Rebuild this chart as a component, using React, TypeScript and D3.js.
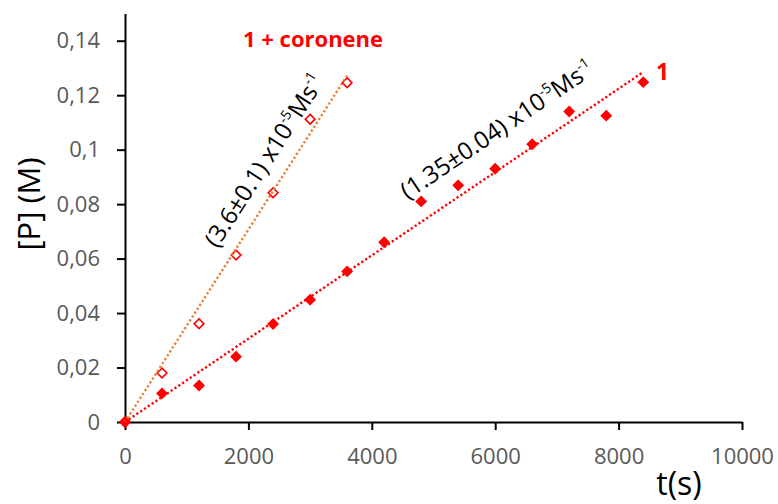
import React, { useEffect, useRef } from 'react';
import * as d3 from 'd3';

// time (s) for each sample
const times1 = [0, 600, 1200, 1800, 2400, 3000, 3600, 4200, 4800, 5400, 6000, 6600, 7200, 7800, 8400];
// [P] (M) for compound 1
const conc1 = [0, 0.0105, 0.0134, 0.024, 0.036, 0.0449, 0.0553, 0.066, 0.081, 0.0869, 0.093, 0.102, 0.114, 0.1125, 0.1248];

const timesCor = [0, 600, 1200, 1800, 2400, 3000, 3600];
// [P] (M) for 1 + coronene
const concCor = [0, 0.018, 0.0361, 0.0613, 0.0842, 0.1112, 0.1246];

// linear trendlines (endpoints in data units)
const fitCorT = [0, 3600];
const fitCorP = [0, 0.1272];
const fit1T = [0, 8400];
const fit1P = [0, 0.1285];

const xTicks = [0, 2000, 4000, 6000, 8000, 10000];
const yTicks = [0, 0.02, 0.04, 0.06, 0.08, 0.1, 0.12, 0.14];
const yTickLabels = ['0', '0,02', '0,04', '0,06', '0,08', '0,1', '0,12', '0,14'];

const FONT = "'Open Sans', 'DejaVu Sans', sans-serif";

const App = () => {
  const ref = useRef<SVGSVGElement>(null);

  useEffect(() => {
    const svg = d3.select(ref.current);
    svg.selectAll('*').remove();

    const x = d3.scaleLinear().domain([0, 10000]).range([125, 742]);
    const y = d3.scaleLinear().domain([0, 0.15]).range([422, 13.5]);

    // axes
    const gx = svg.append('g')
      .attr('transform', `translate(0,${y(0)})`)
      .call(d3.axisBottom(x).tickValues(xTicks).tickFormat(d3.format('d')).tickSize(8).tickSizeOuter(0).tickPadding(18));
    const gy = svg.append('g')
      .attr('transform', `translate(${x(0)},0)`)
      .call(d3.axisLeft(y).tickValues(yTicks)
        .tickFormat((d, i) => yTickLabels[i]).tickSize(8).tickSizeOuter(0).tickPadding(17));

    [gx, gy].forEach(g => {
      g.select('.domain').attr('stroke', '#000').attr('stroke-width', 2);
      g.selectAll('.tick line').attr('stroke', '#000').attr('stroke-width', 2);
      g.selectAll('.tick text')
        .attr('fill', '#595959')
        .attr('font-family', FONT)
        .attr('font-size', 22);
    });

    const line = d3.line<[number, number]>().x(d => x(d[0])).y(d => y(d[1]));

    // open diamonds (1 + coronene)
    svg.append('g')
      .selectAll('path')
      .data(timesCor.map((t, i) => [t, concCor[i]]))
      .join('path')
      .attr('transform', d => `translate(${x(d[0])},${y(d[1])})`)
      .attr('d', d3.symbol().type(d3.symbolDiamond2).size(60)())
      .attr('fill', '#fff')
      .attr('stroke', '#ff0000')
      .attr('stroke-width', 1.6);

    // filled diamonds (1)
    svg.append('g')
      .selectAll('path')
      .data(times1.map((t, i) => [t, conc1[i]]))
      .join('path')
      .attr('transform', d => `translate(${x(d[0])},${y(d[1])})`)
      .attr('d', d3.symbol().type(d3.symbolDiamond2).size(90)())
      .attr('fill', '#ff0000');

    // trendlines
    svg.append('path')
      .datum(fitCorT.map((t, i) => [t, fitCorP[i]] as [number, number]))
      .attr('d', line)
      .attr('fill', 'none')
      .attr('stroke', '#ed7d31')
      .attr('stroke-width', 2.4)
      .attr('stroke-dasharray', '2.2 2.4');
    svg.append('path')
      .datum(fit1T.map((t, i) => [t, fit1P[i]] as [number, number]))
      .attr('d', line)
      .attr('fill', 'none')
      .attr('stroke', '#ff0000')
      .attr('stroke-width', 2.4)
      .attr('stroke-dasharray', '2.2 2.4');

    // rate annotations along the trendlines
    const angle = (T: number[], P: number[]) =>
      Math.atan2(y(P[1]) - y(P[0]), x(T[1]) - x(T[0])) * 180 / Math.PI;

    const annotate = (px: number, py: number, rot: number, rate: string) => {
      const t = svg.append('text')
        .attr('transform', `translate(${px},${py}) rotate(${rot})`)
        .attr('font-family', FONT)
        .attr('font-size', 24)
        .attr('fill', '#000');
      t.append('tspan').text(`${rate} x10`);
      t.append('tspan').attr('dy', -10).attr('font-size', 14).text('-5');
      t.append('tspan').attr('dy', 10).text('Ms');
      t.append('tspan').attr('dy', -10).attr('font-size', 14).text('-1');
    };
    annotate(x(1500), y(0.0635), angle(fitCorT, fitCorP), '(3.6±0.1)');
    annotate(x(4580), y(0.0815), angle(fit1T, fit1P), '(1.35±0.04)');

    // series labels
    svg.append('text')
      .attr('x', 243).attr('y', 47)
      .attr('font-family', FONT).attr('font-weight', 'bold').attr('font-size', 22)
      .attr('fill', '#ff0000')
      .text('1 + coronene');
    svg.append('text')
      .attr('x', 656).attr('y', 80)
      .attr('font-family', FONT).attr('font-weight', 'bold').attr('font-size', 23)
      .attr('fill', '#ff0000')
      .text('1');

    // axis titles
    svg.append('text')
      .attr('transform', 'translate(40,204) rotate(-90)')
      .attr('text-anchor', 'middle')
      .attr('font-family', FONT).attr('font-size', 31)
      .attr('fill', '#000')
      .text('[P] (M)');
    svg.append('text')
      .attr('x', 679).attr('y', 495)
      .attr('text-anchor', 'middle')
      .attr('font-family', FONT).attr('font-size', 32)
      .attr('fill', '#000')
      .text('t(s)');
  }, []);

  return (
    <svg ref={ref} width="778" height="504"
      style={{ position: 'absolute', left: 0, top: 0, background: '#fff' }} />
  );
};

export default App;
